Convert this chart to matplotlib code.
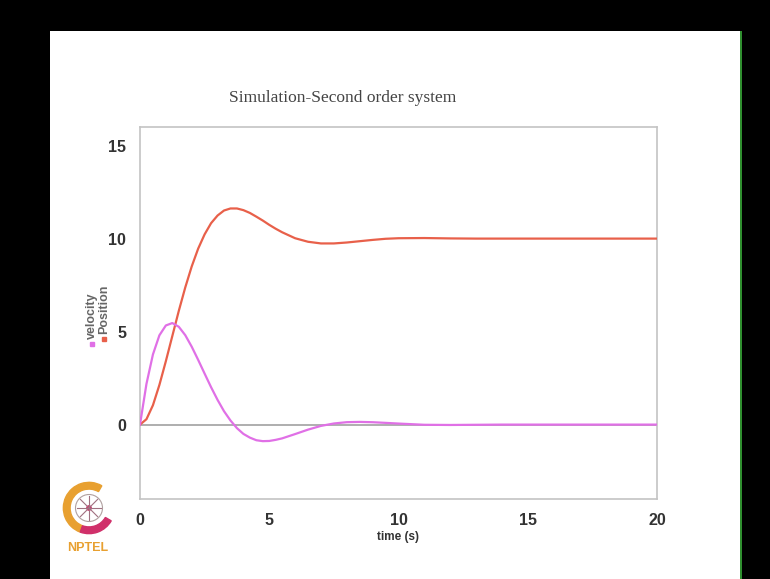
import matplotlib.pyplot as plt
from matplotlib.patches import Rectangle, Circle, Wedge

# Data
###############################################################################
time_s = [0, 0.25, 0.5, 0.75, 1.0, 1.25, 1.5, 1.75, 2.0, 2.25, 2.5, 2.75,
          3.0, 3.25, 3.5, 3.75, 4.0, 4.25, 4.5, 4.75, 5.0, 5.25, 5.5, 6.0,
          6.5, 7.0, 7.5, 8.0, 8.5, 9.0, 9.5, 10, 11, 12, 13, 14, 15, 16,
          17, 18, 19, 20]
position = [0, 0.29, 1.04, 2.13, 3.41, 4.76, 6.11, 7.37, 8.50, 9.46, 10.23,
            10.83, 11.24, 11.51, 11.62, 11.62, 11.53, 11.38, 11.18, 10.97,
            10.74, 10.53, 10.34, 10.02, 9.83, 9.74, 9.74, 9.79, 9.86, 9.93,
            9.99, 10.02, 10.03, 10.01, 10.0, 10.0, 10.0, 10.0, 10.0, 10.0,
            10.0, 10.0]
velocity = [0, 2.19, 3.77, 4.80, 5.33, 5.46, 5.26, 4.81, 4.19, 3.48, 2.74,
            2.01, 1.33, 0.72, 0.22, -0.19, -0.50, -0.70, -0.84, -0.89, -0.88,
            -0.82, -0.74, -0.51, -0.27, -0.07, 0.06, 0.13, 0.145, 0.128,
            0.093, 0.056, -0.01, -0.02, -0.01, 0.0, 0.0, 0.0, 0.0, 0.0, 0.0,
            0.0]
x_ticks = [0, 5, 10, 15, 20]
y_ticks = [0, 5, 10, 15]

W, H = 770, 579
pos_color = '#e8604a'
vel_color = '#e070e6'

fig = plt.figure(figsize=(W / 100, H / 100), dpi=100, facecolor='black')

# white slide area
fig.patches.append(Rectangle((50 / W, 0), 690 / W, (H - 31) / H,
                             transform=fig.transFigure, facecolor='white',
                             edgecolor='none', zorder=-5))
fig.patches.append(Rectangle((740 / W, 0), 2 / W, (H - 31) / H,
                             transform=fig.transFigure, facecolor='#2f8f2f',
                             edgecolor='none', zorder=-5))

ax = fig.add_axes([140 / W, (H - 499) / H, 517 / W, 372 / H], zorder=3)
ax.set_facecolor('white')
ax.axhline(0, color='#a8a8a8', lw=1.3, zorder=1)
ax.plot(time_s, position, color=pos_color, lw=1.6, zorder=3)
ax.plot(time_s, velocity, color=vel_color, lw=1.6, zorder=3)

ax.set_xlim(0, 20)
ax.set_ylim(-4, 16)
ax.set_xticks(x_ticks)
ax.set_yticks(y_ticks)
ax.tick_params(length=0, pad=10, labelsize=11.5, labelcolor='#333333')
for lab in ax.get_xticklabels() + ax.get_yticklabels():
    lab.set_fontweight('bold')
    lab.set_fontfamily('Liberation Sans')
for sp in ax.spines.values():
    sp.set_color('#c4c4c4')
    sp.set_linewidth(1.2)
ax.set_xlabel('time (s)', fontsize=8.5, fontweight='bold', color='#333333',
              family='Liberation Sans', labelpad=2)

fig.text(343 / W, 1 - 98 / H, 'Simulation-Second order system',
         fontsize=12.5, family='Liberation Serif', color='#444444',
         ha='center', va='center', zorder=3)

# rotated legend on the left
fig.text(92 / W, 1 - 339 / H, 'velocity', rotation=90, fontsize=9,
         family='Liberation Sans', fontweight='bold', color='#666666',
         ha='center', va='bottom', zorder=3)
fig.text(104 / W, 1 - 334 / H, 'Position', rotation=90, fontsize=9,
         family='Liberation Sans', fontweight='bold', color='#666666',
         ha='center', va='bottom', zorder=3)
fig.patches.append(Rectangle((90 / W, 1 - 346 / H), 4 / W, 4 / H,
                             transform=fig.transFigure, color=vel_color,
                             zorder=3))
fig.patches.append(Rectangle((102 / W, 1 - 341 / H), 4 / W, 4 / H,
                             transform=fig.transFigure, color=pos_color,
                             zorder=3))

# NPTEL logo, rough
logo = fig.add_axes([62 / W, 1 - 535 / H, 54 / W, 54 / H], zorder=3)
logo.set_xlim(-1, 1)
logo.set_ylim(-1, 1)
logo.set_aspect('equal')
logo.axis('off')
logo.add_patch(Wedge((0, 0), 0.95, 60, 250, width=0.25, color='#e8a030'))
logo.add_patch(Wedge((0, 0), 0.95, 250, 330, width=0.25, color='#d0306a'))
logo.add_patch(Circle((0, 0), 0.5, facecolor='none', edgecolor='#b0a0a0',
                      lw=0.8))
logo.plot([-0.45, 0.45], [0, 0], color='#a07080', lw=0.8)
logo.plot([0, 0], [-0.45, 0.45], color='#a07080', lw=0.8)
logo.plot([-0.32, 0.32], [-0.32, 0.32], color='#a07080', lw=0.8)
logo.plot([-0.32, 0.32], [0.32, -0.32], color='#a07080', lw=0.8)
logo.add_patch(Circle((0, 0), 0.08, color='#d0306a'))
fig.text(88 / W, 1 - 548 / H, 'NPTEL', fontsize=9, fontweight='bold',
         color='#e8a030', ha='center', va='center', family='Liberation Sans',
         zorder=3)

fig.savefig('out.png', dpi=100, facecolor=fig.get_facecolor())
